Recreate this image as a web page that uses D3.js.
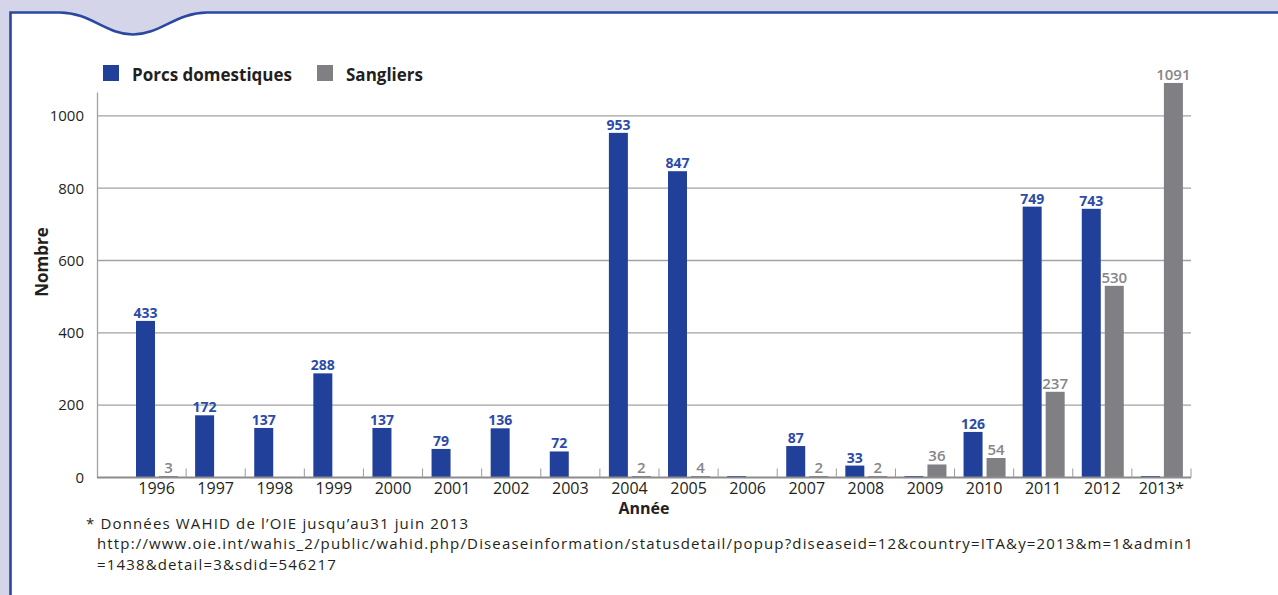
<!DOCTYPE html>
<html>
<head>
<meta charset="utf-8">
<script src="https://cdn.jsdelivr.net/npm/d3@7"></script>
<style>
  html, body { margin: 0; padding: 0; background: #d5d5ea; }
  svg { display: block; }
  text { font-family: "Open Sans", "Noto Sans", sans-serif; }
</style>
</head>
<body>
<svg id="chart" width="1278" height="595"></svg>
<script>
const years = ["1996","1997","1998","1999","2000","2001","2002","2003","2004","2005","2006","2007","2008","2009","2010","2011","2012","2013*"];
const porcs = [433,172,137,288,137,79,136,72,953,847,0,87,33,0,126,749,743,0];
const sangliers = [3,null,null,null,null,null,null,null,2,4,null,2,2,36,54,237,530,1091];
const seriesNames = ["Porcs domestiques","Sangliers"];
const seriesColors = ["#21409a","#808084"];
const labelColors = ["#2b4ba8","#86868a"];
const yTicks = [0,200,400,600,800,1000];
const yTitle = "Nombre";
const xTitle = "Année";
const footnote = [
  "* Données WAHID de l’OIE jusqu’au31 juin 2013",
  "http://www.oie.int/wahis_2/public/wahid.php/Diseaseinformation/statusdetail/popup?diseaseid=12&country=ITA&y=2013&m=1&admin1",
  "=1438&detail=3&sdid=546217"
];

const svg = d3.select("#chart");
const W = 1278, H = 595;

// background + panel
svg.append("rect").attr("width", W).attr("height", H).attr("fill", "#d5d5ea");
svg.append("path")
  .attr("d", "M10.5,620 V12.5 H60 C90,12.5 106,34.5 133,34.5 C160,34.5 176,12.5 207,12.5 H1300 V620 Z")
  .attr("fill", "#ffffff")
  .attr("stroke", "#2a48a0")
  .attr("stroke-width", 2.6);

const axisLeft = 97, plotLeft = 127, plotRight = 1191;
const yBase = 477.5, yTop = 92;

const x0 = d3.scaleBand().domain(years).range([plotLeft, plotRight]).paddingInner(0).paddingOuter(0);
const x1 = d3.scaleBand().domain(seriesNames).range([9, 51]).paddingInner(0.174).paddingOuter(0);
const y = d3.scaleLinear().domain([0, 1066]).range([yBase, yTop]);

// gridlines
svg.append("g").selectAll("line").data(yTicks.filter(d => d > 0)).join("line")
  .attr("x1", axisLeft).attr("x2", plotRight)
  .attr("y1", d => y(d)).attr("y2", d => y(d))
  .attr("stroke", "#a2a2a4").attr("stroke-width", 1.3);

// y axis
const yAxis = d3.axisLeft(y).tickValues(yTicks).tickFormat(d3.format("d")).tickSize(0).tickPadding(13);
const gy = svg.append("g").attr("transform", `translate(${axisLeft},0)`).call(yAxis);
gy.select(".domain").attr("stroke", "#a2a2a4").attr("stroke-width", 1.3);
gy.selectAll("text").attr("font-size", 15).attr("fill", "#231f20")
  .attr("font-family", "'Open Sans', sans-serif");

// bars
const seriesData = [porcs, sangliers];
const gBars = svg.append("g");
seriesData.forEach((vals, si) => {
  const name = seriesNames[si];
  const data = years.map((yr, i) => ({ yr, v: vals[i] })).filter(d => d.v !== null);
  gBars.selectAll(null).data(data).join("rect")
    .attr("x", d => x0(d.yr) + x1(name))
    .attr("width", x1.bandwidth())
    .attr("y", d => Math.min(y(d.v), yBase - 1.5))
    .attr("height", d => Math.max(y(0) - y(d.v), 1.5) + 0.5)
    .attr("fill", seriesColors[si]);
  gBars.selectAll(null).data(data.filter(d => d.v > 0)).join("text")
    .attr("x", d => x0(d.yr) + x1(name) + x1.bandwidth() / 2)
    .attr("y", d => Math.min(y(d.v), yBase - 1.5) - 3)
    .attr("text-anchor", "middle")
    .attr("font-size", si === 0 ? 14 : 15)
    .attr("font-weight", si === 0 ? 700 : 600)
    .attr("fill", labelColors[si])
    .text(d => d.v);
});

// x axis baseline
svg.append("line")
  .attr("x1", axisLeft).attr("x2", plotRight)
  .attr("y1", yBase).attr("y2", yBase)
  .attr("stroke", "#8c8c8e").attr("stroke-width", 2);

// x ticks between bands (pointing up)
const tickPos = years.slice(1).map(yr => x0(yr)).concat([plotRight]);
svg.append("g").selectAll("line").data(tickPos).join("line")
  .attr("x1", d => d).attr("x2", d => d)
  .attr("y1", yBase - 9).attr("y2", yBase)
  .attr("stroke", "#9a9a9c").attr("stroke-width", 1);

// x labels
svg.append("g").selectAll("text").data(years).join("text")
  .attr("x", d => x0(d) + x0.bandwidth() / 2)
  .attr("y", 494)
  .attr("text-anchor", "middle")
  .attr("font-size", 16)
  .attr("fill", "#231f20")
  .text(d => d);

// axis titles
svg.append("text")
  .attr("x", (axisLeft + plotRight) / 2).attr("y", 514)
  .attr("text-anchor", "middle").attr("font-size", 16).attr("font-weight", 700)
  .attr("fill", "#231f20").text(xTitle);
svg.append("text")
  .attr("transform", "translate(48,262) rotate(-90)")
  .attr("text-anchor", "middle").attr("font-size", 17).attr("font-weight", 700)
  .attr("fill", "#231f20").text(yTitle);

// legend
const legX = [103, 317];
const legend = svg.append("g");
seriesNames.forEach((n, i) => {
  legend.append("rect").attr("x", legX[i]).attr("y", 65).attr("width", 16).attr("height", 16)
    .attr("fill", seriesColors[i]);
  legend.append("text").attr("x", legX[i] + 29).attr("y", 81)
    .attr("font-size", 17).attr("font-weight", 700).attr("fill", "#231f20").text(n);
});

// footnote
const fy = [528.5, 549, 569.5];
svg.append("g").selectAll("text").data(footnote).join("text")
  .attr("x", (d, i) => i === 0 ? 86 : 97)
  .attr("y", (d, i) => fy[i])
  .attr("font-size", 15)
  .attr("letter-spacing", 1.15)
  .attr("fill", "#231f20")
  .text(d => d);
</script>
</body>
</html>
